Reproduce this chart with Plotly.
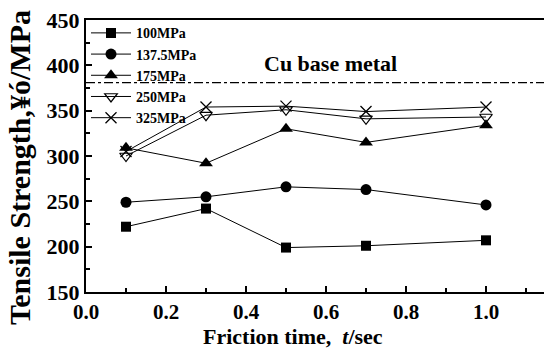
import plotly.graph_objects as go

friction_time = [0.1, 0.3, 0.5, 0.7, 1.0]
series_names = ["100MPa", "137.5MPa", "175MPa", "250MPa", "325MPa"]
s100 = [222, 242, 199, 201, 207]
s137 = [249, 255, 266, 263, 246]
s175 = [309, 292, 330, 315, 334]
s250 = [300, 345, 351, 341, 343]
s325 = [305, 354, 355, 349, 354]
base_metal = 381
x_ticks = [0.0, 0.2, 0.4, 0.6, 0.8, 1.0]
y_ticks = [150, 200, 250, 300, 350, 400, 450]

FONT = "Liberation Serif"
markers = [
    dict(symbol="square", size=10, color="black"),
    dict(symbol="circle", size=11, color="black"),
    dict(symbol="triangle-up", size=12, color="black"),
    dict(symbol="triangle-down-open", size=11, color="black", line=dict(width=1.2, color="black")),
    dict(symbol="x-thin-open", size=11, color="black", line=dict(width=1.3, color="black")),
]

fig = go.Figure()
for name, vals, mk in zip(series_names, [s100, s137, s175, s250, s325], markers):
    fig.add_trace(go.Scatter(
        x=friction_time, y=vals, mode="lines+markers", name=name,
        line=dict(color="black", width=1), marker=mk,
    ))

fig.add_shape(type="line", xref="paper", yref="y", x0=0, x1=1, y0=base_metal, y1=base_metal,
              line=dict(color="black", width=1.2, dash="dashdot"))
fig.add_annotation(text="Cu base metal", xref="x", yref="y", x=0.44, y=402, xanchor="left",
                   yanchor="middle", showarrow=False,
                   font=dict(family=FONT, size=22, color="black", weight="bold"))
fig.add_annotation(text="Friction time,  <i>t</i>/sec", xref="paper", yref="paper",
                   x=(293 - 86) / (544 - 86), y=-(336 - 292) / 272, xanchor="center",
                   yanchor="middle", showarrow=False,
                   font=dict(family=FONT, size=22, color="black", weight="bold"))
fig.add_annotation(text="Tensile Strength,¥ó/MPa", xref="paper", yref="paper",
                   x=-(86 - 19) / (544 - 86), y=(292 - 168) / 272, xanchor="center",
                   yanchor="middle", textangle=-90, showarrow=False,
                   font=dict(family=FONT, size=30, color="black", weight="bold"))

fig.update_layout(
    width=544, height=348,
    margin=dict(l=86, r=0, t=20, b=56),
    plot_bgcolor="white", paper_bgcolor="white",
    showlegend=True,
    legend=dict(x=0.0, y=1.01, xanchor="left", yanchor="top", bgcolor="rgba(0,0,0,0)",
                font=dict(family=FONT, size=14, color="black", weight="bold"),
                itemwidth=40, tracegroupgap=0, itemsizing="trace"),
    font=dict(family=FONT, color="black"),
)
fig.update_xaxes(
    range=[0, 1.145], tickvals=x_ticks, ticktext=[f"{v:.1f}" for v in x_ticks],
    ticks="inside", ticklen=6, tickwidth=1.5, tickcolor="black",
    minor=dict(dtick=0.1, ticks="inside", ticklen=4, tickwidth=1.5, tickcolor="black"),
    showline=True, linecolor="black", linewidth=2, mirror=True, showgrid=False, zeroline=False,
    tickfont=dict(family=FONT, size=21, color="black", weight="bold"),
)
fig.update_yaxes(
    range=[150, 450], tickvals=y_ticks,
    ticks="inside", ticklen=6, tickwidth=1.5, tickcolor="black",
    minor=dict(dtick=25, ticks="inside", ticklen=4, tickwidth=1.5, tickcolor="black"),
    showline=True, linecolor="black", linewidth=2, showgrid=False, zeroline=False,
    tickfont=dict(family=FONT, size=22, color="black", weight="bold"),
)
fig.write_html("out.html")
